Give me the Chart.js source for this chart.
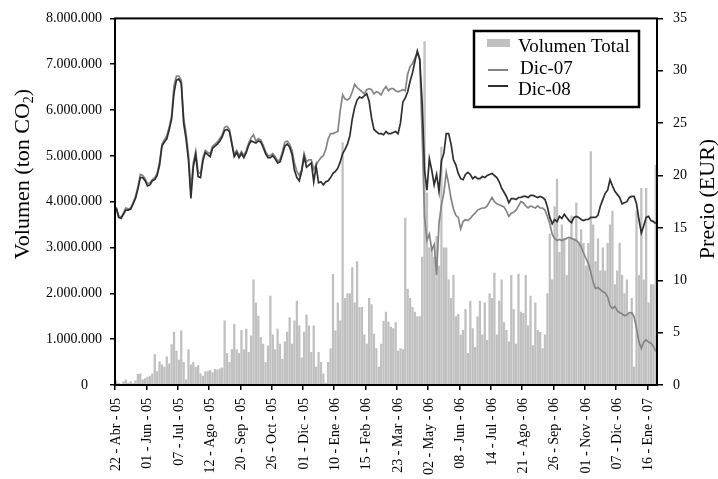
<!DOCTYPE html>
<html>
<head>
<meta charset="utf-8">
<script src="https://cdn.jsdelivr.net/npm/chart.js@4.4.1/dist/chart.umd.min.js"></script>
<style>
html,body{margin:0;padding:0;background:#fff;}
#wrap{width:718px;height:479px;position:relative;}
</style>
</head>
<body>
<div id="wrap"><canvas id="c" width="718" height="479"></canvas></div>
<script>
// Tick labels shown on the category axis (one every 13 categories)
const tickLabels = ['22 - Abr - 05','01 - Jun - 05','07 - Jul - 05','12 - Ago - 05','20 - Sep - 05','26 - Oct - 05','01 - Dic - 05','10 - Ene - 06','15 - Feb - 06','23 - Mar - 06','02 - May - 06','08 - Jun - 06','14 - Jul - 06','21 - Ago - 06','26 - Sep - 06','01 - Nov - 06','07 - Dic - 06','16 - Ene - 07'];
const labelEvery = 13;

// Volumen Total (millions of ton CO2)
const volumeMillions = [
0.1,0.05,0.03,0.08,0.12,0.05,0.08,0.04,0.1,0.24,0.25,0.12,0.15,
0.18,0.2,0.25,0.67,0.3,0.52,0.45,0.4,0.62,0.47,0.89,1.16,0.75,
0.55,1.19,0.5,0.12,0.78,0.45,0.5,0.4,0.43,0.25,0.2,0.3,0.3,
0.33,0.28,0.35,0.34,0.36,0.38,1.41,0.7,0.5,0.78,1.33,0.78,0.7,
1.2,0.78,1.23,0.72,1.08,2.3,1.8,1.51,1.05,0.9,0.5,0.86,1.95,
1.1,0.78,1.23,0.9,0.57,0.95,1.16,1.48,0.9,1.41,1.84,1.3,0.6,
1.16,1.54,1.3,0.72,1.3,0.4,0.72,0.5,0.25,0.05,0.5,0.8,2.42,
1.19,1.8,1.41,5.3,1.9,2.0,2.0,2.57,1.8,2.7,1.7,1.7,1.1,
0.9,1.9,1.76,1.12,0.8,0.4,0.9,1.4,1.6,1.38,1.27,1.24,1.37,
0.75,0.8,0.78,3.65,2.1,1.9,1.7,1.6,1.5,1.5,2.8,7.5,4.2,
3.0,2.97,2.8,3.25,2.6,5.2,3.0,3.0,2.3,1.9,2.4,1.5,1.55,
1.1,1.2,1.66,0.7,1.84,1.24,0.83,1.5,1.84,1.1,1.8,0.98,2.0,
1.9,2.45,1.1,1.84,2.3,1.37,1.2,0.95,2.4,1.66,0.9,2.43,1.6,
1.57,2.4,1.3,1.95,0.87,1.8,1.2,1.16,0.8,1.1,2.0,3.3,2.3,
3.9,4.5,2.9,3.5,3.2,2.4,3.2,3.7,3.2,3.98,3.1,3.4,3.1,
2.6,3.1,5.1,3.5,2.7,3.2,2.5,3.0,2.5,3.1,3.5,3.8,2.2,
2.5,3.1,2.4,2.0,2.3,1.6,1.9,0.4,3.8,2.4,4.3,2.3,4.3,
1.8,2.2,2.2,4.8];

// Precio Dic-07 (EUR)
const dic07 = [
17.0,16.2,16.0,16.4,16.9,16.8,16.9,17.4,18.0,18.9,20.1,20.0,19.7,
19.2,19.3,19.6,19.8,20.2,21.3,23.0,23.4,23.8,24.6,25.7,28.6,29.5,
29.5,29.1,25.5,24.0,22.0,18.6,21.2,22.3,20.3,20.2,21.7,22.4,22.2,
22.1,22.8,23.0,23.2,23.5,23.9,24.6,24.7,24.4,23.2,22.0,22.4,21.9,
22.3,21.9,22.4,23.1,23.6,23.9,23.3,23.5,23.4,22.9,22.3,21.9,21.9,
22.1,21.8,21.4,21.5,22.3,23.2,23.3,23.0,22.4,21.2,20.4,20.0,20.6,
22.1,21.3,21.5,21.5,20.6,21.0,21.4,21.7,21.9,22.5,23.5,24.0,24.0,
24.1,24.2,26.2,27.7,27.3,27.2,27.4,28.0,28.7,28.4,28.2,28.0,27.8,
28.2,28.3,28.2,27.8,28.0,27.9,27.7,28.2,28.5,28.1,28.3,28.3,28.1,
28.0,28.1,28.2,28.1,29.7,30.4,30.7,31.2,31.7,31.1,24.0,16.0,13.8,
14.4,12.9,13.4,10.5,15.4,17.2,18.3,20.3,19.2,17.8,16.8,16.2,16.0,
14.9,15.6,15.8,15.7,15.9,16.2,16.4,16.7,16.8,16.9,16.9,17.1,17.5,
17.9,17.5,17.3,17.2,17.1,17.0,16.6,16.1,16.4,16.5,16.7,17.1,17.5,
17.4,17.1,16.9,17.1,17.0,16.9,17.1,16.9,16.9,16.7,16.1,15.4,14.4,
14.0,13.8,13.9,13.8,13.9,14.0,14.1,14.0,13.9,13.8,13.6,13.2,12.6,
12.1,11.6,10.8,9.8,9.2,9.3,9.1,8.9,8.8,8.4,7.6,7.3,7.5,
7.1,6.9,6.8,6.6,6.7,6.9,6.9,6.5,5.4,4.1,3.5,4.1,4.3,
4.1,4.0,3.7,3.2];

// Precio Dic-08 (EUR)
const dic08 = [
16.9,16.0,15.9,16.3,16.7,16.7,16.8,17.3,17.8,18.7,19.8,19.8,19.5,
19.0,19.1,19.5,19.6,20.0,21.0,22.8,23.2,23.5,24.4,25.4,27.9,29.1,
29.2,28.8,25.0,23.5,21.5,17.8,20.8,22.0,19.9,19.8,21.4,22.2,22.0,
21.8,22.6,22.8,23.0,23.3,23.7,24.3,24.4,24.2,23.0,21.8,22.2,21.7,
22.1,21.7,22.2,22.9,23.3,23.2,23.1,23.3,23.2,22.7,22.1,21.7,21.7,
21.9,21.6,21.2,21.3,22.0,22.8,23.0,22.7,22.0,20.5,19.8,19.5,20.4,
21.8,20.8,21.0,21.2,19.4,20.9,19.3,19.4,19.1,19.4,19.5,19.8,20.2,
20.4,20.7,21.3,22.1,22.5,23.0,23.8,25.4,26.5,27.2,27.5,27.4,27.6,
27.8,27.1,25.5,24.4,24.2,24.0,24.0,23.9,24.2,24.0,24.0,24.1,24.2,
24.0,25.0,27.0,27.4,28.0,29.0,29.8,30.9,31.9,31.1,27.0,20.5,18.6,
21.6,20.5,19.1,20.1,18.5,21.4,22.1,24.0,24.0,23.0,21.5,21.0,20.2,
19.7,19.6,20.1,20.3,20.1,19.7,19.9,19.7,19.7,19.9,19.8,20.0,20.1,
20.2,20.0,19.8,19.4,18.8,18.4,18.0,17.4,17.8,17.8,17.7,17.9,17.9,
18.0,18.0,17.9,18.1,18.1,18.0,17.9,18.0,17.9,17.7,17.0,16.0,15.4,
15.8,15.6,16.1,15.9,16.3,16.0,15.7,15.5,16.0,16.1,16.0,15.8,15.7,
15.8,15.8,16.0,16.0,16.0,16.2,17.1,17.7,18.3,18.6,19.6,19.0,18.5,
18.2,17.9,17.3,17.4,17.5,17.9,18.0,18.0,17.3,15.8,14.5,15.2,16.0,
16.1,15.7,15.6,15.4];

const categories = volumeMillions.map((_, i) => (i % labelEvery === 0 && tickLabels[i / labelEvery]) ? tickLabels[i / labelEvery] : '');

const SERIF = '"Liberation Serif", "Times New Roman", serif';
const BAR_COLOR = '#c0c0c0';
const C07 = '#858585';
const C08 = '#2f2f2f';

function fmtThousands(n){
  return String(Math.round(n)).replace(/\B(?=(\d{3})+(?!\d))/g, '.');
}

const deco = {
  id: 'deco',
  afterDraw(chart){
    const ctx = chart.ctx, a = chart.chartArea;
    ctx.save();
    // frame
    ctx.strokeStyle = '#000'; ctx.lineWidth = 2;
    ctx.strokeRect(a.left, a.top, a.right - a.left, a.bottom - a.top);

    // left axis title with subscript
    ctx.fillStyle = '#000';
    ctx.save();
    ctx.translate(23, 174); ctx.rotate(-Math.PI/2);
    const fMain = '22px ' + SERIF, fSub = '14px ' + SERIF;
    ctx.font = fMain; const w1 = ctx.measureText('Volumen (ton CO').width; const w3 = ctx.measureText(')').width;
    ctx.font = fSub; const w2 = ctx.measureText('2').width;
    let x0 = -(w1 + w2 + w3)/2;
    ctx.textBaseline = 'middle'; ctx.textAlign = 'left';
    ctx.font = fMain; ctx.fillText('Volumen (ton CO', x0, 0);
    ctx.font = fSub; ctx.fillText('2', x0 + w1, 6);
    ctx.font = fMain; ctx.fillText(')', x0 + w1 + w2, 0);
    ctx.restore();

    // right axis title
    ctx.save();
    ctx.translate(708, 199); ctx.rotate(-Math.PI/2);
    ctx.font = fMain; ctx.textAlign = 'center'; ctx.textBaseline = 'middle';
    ctx.fillText('Precio (EUR)', 0, 0);
    ctx.restore();

    // legend
    const L = 474, T = 31, R = 639, B = 107;
    ctx.fillStyle = '#fff'; ctx.fillRect(L, T, R - L, B - T);
    ctx.strokeStyle = '#000'; ctx.lineWidth = 2.5; ctx.strokeRect(L, T, R - L, B - T);
    ctx.fillStyle = BAR_COLOR; ctx.fillRect(487, 39, 23, 8);
    ctx.lineWidth = 2;
    ctx.strokeStyle = C07; ctx.beginPath(); ctx.moveTo(488, 70); ctx.lineTo(508, 70); ctx.stroke();
    ctx.strokeStyle = C08; ctx.beginPath(); ctx.moveTo(488, 86); ctx.lineTo(508, 86); ctx.stroke();
    ctx.fillStyle = '#000'; ctx.font = '19px ' + SERIF; ctx.textAlign = 'left'; ctx.textBaseline = 'alphabetic';
    ctx.fillText('Volumen Total', 518, 52);
    ctx.fillText('Dic-07', 520, 74);
    ctx.fillText('Dic-08', 518, 95);
    ctx.restore();
  }
};

new Chart(document.getElementById('c'), {
  type: 'bar',
  data: {
    labels: categories,
    datasets: [
      { type: 'line', label: 'Dic-08', data: dic08, yAxisID: 'y1', borderColor: C08, borderWidth: 1.7, pointRadius: 0, tension: 0, order: 1 },
      { type: 'line', label: 'Dic-07', data: dic07, yAxisID: 'y1', borderColor: C07, borderWidth: 1.7, pointRadius: 0, tension: 0, order: 2 },
      { type: 'bar', label: 'Volumen Total', data: volumeMillions, yAxisID: 'y', backgroundColor: BAR_COLOR, borderWidth: 0, barPercentage: 0.95, categoryPercentage: 1, order: 3 }
    ]
  },
  options: {
    responsive: false,
    animation: false,
    devicePixelRatio: 1,
    layout: { padding: { top: 16, left: 0, right: 0, bottom: 0 } },
    plugins: { legend: { display: false }, tooltip: { enabled: false } },
    scales: {
      x: {
        afterFit(s){ s.height = 94; },
        border: { display: false },
        grid: {
          drawOnChartArea: false, tickLength: 5, lineWidth: 1.5,
          color: c => (c.index % labelEvery === 0) ? '#000' : 'rgba(0,0,0,0)'
        },
        ticks: {
          autoSkip: false, minRotation: 90, maxRotation: 90, padding: 8,
          color: '#000', font: { family: SERIF, size: 14 },
          callback: function(v, i){ return categories[i]; }
        }
      },
      y: {
        position: 'left', min: 0, max: 8,
        afterFit(s){ s.width = 115; },
        border: { display: false },
        grid: { drawOnChartArea: false, tickLength: 5, color: '#000', lineWidth: 1.5 },
        ticks: {
          stepSize: 1, padding: 8, color: '#000', font: { family: SERIF, size: 14 },
          callback: v => v === 0 ? '0    ' : fmtThousands(v * 1000000)
        }
      },
      y1: {
        position: 'right', min: 0, max: 35,
        afterFit(s){ s.width = 61; },
        border: { display: false },
        grid: { drawOnChartArea: false, tickLength: 6, color: '#000', lineWidth: 1.5 },
        ticks: { stepSize: 5, padding: 10, color: '#000', font: { family: SERIF, size: 14 } }
      }
    }
  },
  plugins: [deco]
});
</script>
</body>
</html>
